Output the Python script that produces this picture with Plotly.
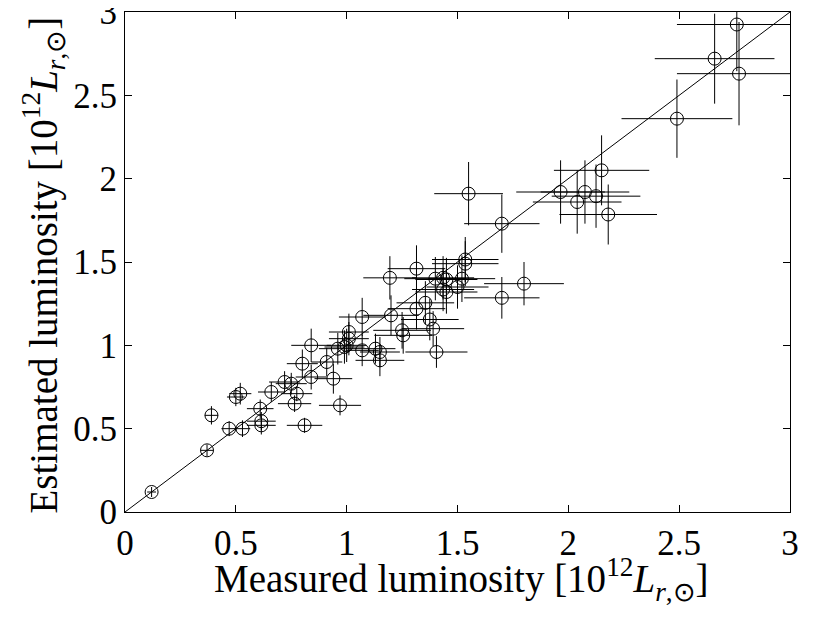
import plotly.graph_objects as go

# Measured luminosity (x), estimated luminosity (y) and their errors, in 10^12 L_r,sun
measured = [0.12, 0.37, 0.39, 0.47, 0.53, 0.50, 0.52, 0.61, 0.615, 0.615,
            0.66, 0.72, 0.75, 0.775, 0.765, 0.81, 0.80, 0.84, 0.84, 0.91,
            0.94, 0.97, 0.96, 0.99, 1.00, 1.01, 1.01, 1.07, 1.07, 1.13,
            1.15, 1.15, 1.195, 1.315, 1.20, 1.25, 1.255, 1.315, 1.355, 1.375,
            1.39, 1.405, 1.40, 1.435, 1.45, 1.435, 1.45, 1.50, 1.52, 1.535,
            1.535, 1.55, 1.70, 1.70, 1.80, 1.965, 2.075, 2.04, 2.125, 2.15,
            2.18, 2.49, 2.66, 2.76, 2.77]
estimated = [0.12, 0.37, 0.58, 0.50, 0.50, 0.69, 0.71, 0.62, 0.545, 0.52,
             0.72, 0.78, 0.77, 0.71, 0.65, 0.52, 0.89, 0.81, 1.00, 0.90,
             0.80, 0.64, 0.98, 0.99, 1.00, 1.04, 1.08, 1.17, 0.97, 0.98,
             0.96, 0.91, 1.405, 1.46, 1.18, 1.09, 1.06, 1.22, 1.255, 1.155,
             1.10, 0.96, 1.40, 1.405, 1.395, 1.335, 1.32, 1.35, 1.40, 1.515,
             1.49, 1.91, 1.73, 1.285, 1.37, 1.92, 1.92, 1.86, 1.895, 2.05,
             1.785, 2.36, 2.72, 2.925, 2.63]
measured_err = [0.02, 0.03, 0.03, 0.035, 0.035, 0.04, 0.05, 0.06, 0.065, 0.065,
                0.06, 0.07, 0.07, 0.07, 0.075, 0.08, 0.07, 0.07, 0.09, 0.07,
                0.085, 0.095, 0.085, 0.09, 0.09, 0.09, 0.09, 0.105, 0.075, 0.09,
                0.09, 0.11, 0.12, 0.13, 0.125, 0.13, 0.13, 0.13, 0.13, 0.13,
                0.14, 0.14, 0.14, 0.14, 0.14, 0.14, 0.14, 0.14, 0.15, 0.15,
                0.15, 0.155, 0.17, 0.17, 0.18, 0.2, 0.2, 0.2, 0.2, 0.215,
                0.22, 0.25, 0.27, 0.27, 0.28]
estimated_err = [0.03, 0.035, 0.055, 0.045, 0.05, 0.055, 0.065, 0.055, 0.055, 0.055,
                 0.06, 0.065, 0.065, 0.045, 0.05, 0.045, 0.085, 0.075, 0.10, 0.085,
                 0.09, 0.06, 0.095, 0.10, 0.10, 0.10, 0.11, 0.115, 0.095, 0.09,
                 0.09, 0.095, 0.13, 0.14, 0.12, 0.11, 0.11, 0.125, 0.13, 0.125,
                 0.105, 0.095, 0.13, 0.13, 0.13, 0.13, 0.13, 0.13, 0.14, 0.135,
                 0.135, 0.19, 0.175, 0.125, 0.13, 0.19, 0.19, 0.19, 0.19, 0.21,
                 0.18, 0.235, 0.27, 0.28, 0.31]

axis_range = [0, 3]
tick_vals = [0, 0.5, 1, 1.5, 2, 2.5, 3]
tick_text = ["0", "0.5", "1", "1.5", "2", "2.5", "3"]

x_title = "Measured luminosity [10<sup>12</sup><i>L</i><sub><i>r</i>,⊙</sub>]"
y_title = "Estimated luminosity [10<sup>12</sup><i>L</i><sub><i>r</i>,⊙</sub>]"

FONT = "Liberation Serif"

fig = go.Figure()

# identity line y = x
fig.add_trace(go.Scatter(
    x=axis_range, y=axis_range, mode="lines",
    line=dict(color="black", width=1), hoverinfo="skip", showlegend=False))

fig.add_trace(go.Scatter(
    x=measured, y=estimated, mode="markers",
    marker=dict(symbol="circle-open", size=13, color="black", line=dict(width=1)),
    error_x=dict(type="data", array=measured_err, visible=True,
                 color="black", thickness=1, width=0),
    error_y=dict(type="data", array=estimated_err, visible=True,
                 color="black", thickness=1, width=0),
    showlegend=False))

axis_common = dict(
    range=axis_range, tickvals=tick_vals, ticktext=tick_text,
    showgrid=False, zeroline=False, showline=True, linecolor="black",
    linewidth=1, mirror="ticks", ticks="inside", ticklen=7, tickcolor="black",
    tickfont=dict(family=FONT, size=35, color="black"),
    automargin=False, ticklabeloverflow="allow",
)

# the page body has an 8px margin, so the figure is sized to fit the window
fig.update_layout(
    width=814, height=609,
    margin=dict(l=117, r=32, t=4, b=105),
    paper_bgcolor="white", plot_bgcolor="white",
    xaxis=dict(**axis_common, ticklabelstandoff=0),
    yaxis=dict(**axis_common, ticklabelstandoff=0),
    annotations=[
        dict(text=x_title, xref="paper", yref="paper", x=0.506, y=-0.134,
             xanchor="center", yanchor="middle", showarrow=False,
             font=dict(family=FONT, size=39, color="black")),
        dict(text=y_title, xref="paper", yref="paper", x=-0.1226, y=0.494,
             xanchor="center", yanchor="middle", showarrow=False, textangle=-90,
             font=dict(family=FONT, size=39, color="black")),
    ],
)

fig.write_html("out.html")
